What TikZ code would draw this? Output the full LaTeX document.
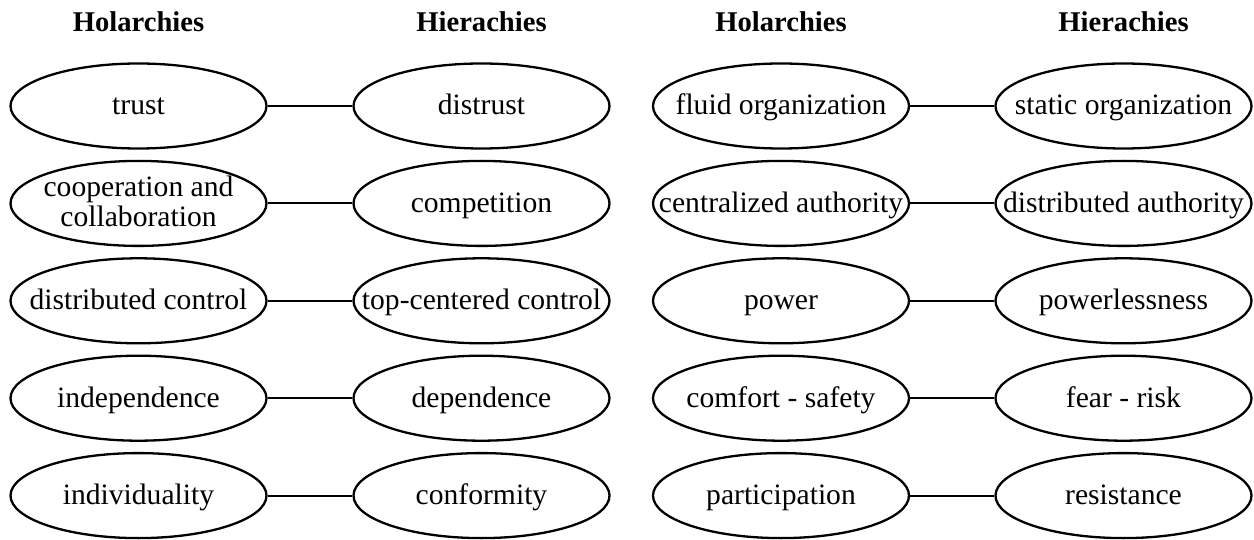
\documentclass[tikz,border=0pt]{standalone}
\usepackage{fontspec}
\setmainfont{Liberation Serif}
\usetikzlibrary{shapes.geometric}
\tikzset{
  oval/.style={draw, line width=1.15pt, ellipse, minimum width=128pt, minimum height=42.5pt, inner sep=0pt},
  lbl/.style={font=\fontsize{14.8}{17.5}\selectfont, inner sep=0pt, anchor=base},
  hdr/.style={font=\fontsize{14.3}{16}\selectfont\bfseries, anchor=base, inner sep=0pt},
  link/.style={line width=1.05pt}
}
\newcommand\ovalrow[6]{%
  % #1 row id, #2 y, #3..#6 texts
  \node[oval] (a#1) at (\xa,#2) {};
  \node[oval] (b#1) at (\xb,#2) {};
  \node[oval] (c#1) at (\xc,#2) {};
  \node[oval] (d#1) at (\xd,#2) {};
  \ifx\relax#3\relax\else\node[lbl] (ta#1) at ([yshift=-4.5pt]a#1.center) {#3};\fi
  \node[lbl] (tb#1) at ([yshift=-4.5pt]b#1.center) {#4};
  \node[lbl] (tc#1) at ([yshift=-4.5pt]c#1.center) {#5};
  \node[lbl] (td#1) at ([yshift=-4.5pt]d#1.center) {#6};
  \draw[link] (a#1) -- (b#1);
  \draw[link] (c#1) -- (d#1);
}
\begin{document}
\begin{tikzpicture}[x=0.5pt,y=-0.5pt]
\useasboundingbox (0,0) rectangle (1254,540);
\def\xa{138.5}\def\xb{481.5}\def\xc{781}\def\xd{1123.5}
\node[hdr] (h1) at (\xa,32) {Holarchies};
\node[hdr] (h2) at (\xb,32) {Hierachies};
\node[hdr] (h3) at (\xc,32) {Holarchies};
\node[hdr] (h4) at (\xd,32) {Hierachies};
\ovalrow{1}{106}{trust}{distrust}{fluid organization}{static organization}
\ovalrow{2}{203.4}{}{competition}{centralized authority}{distributed authority}
\node[lbl] (ta2) at ([yshift=3.5pt]a2.center) {cooperation and};
\node[lbl] (ta2b) at ([yshift=-11.5pt]a2.center) {collaboration};
\ovalrow{3}{300.8}{distributed control}{top-centered control}{power}{powerlessness}
\ovalrow{4}{398.2}{independence}{dependence}{comfort - safety}{fear - risk}
\ovalrow{5}{495.6}{individuality}{conformity}{participation}{resistance}
\end{tikzpicture}
\end{document}
